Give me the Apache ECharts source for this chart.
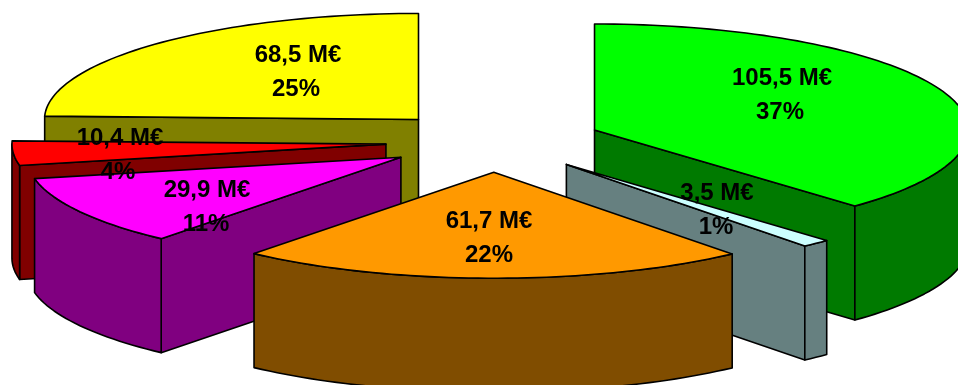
<!DOCTYPE html>
<html>
<head>
<meta charset="utf-8">
<title>Répartition en M€</title>
<style>html,body{margin:0;padding:0;background:#fff}#chart{width:958px;height:385px}</style>
<script src="https://cdn.jsdelivr.net/npm/echarts@6/dist/echarts.min.js"></script>
</head>
<body>
<div id="chart"></div>
<script>
// Slices, clockwise from twelve o'clock
const values = [105.5, 3.5, 61.7, 29.9, 10.4, 68.5];
const percents = [37, 1, 22, 11, 4, 25];
const topColors = ['#00ff00', '#ccffff', '#ff9900', '#ff00ff', '#ff0000', '#ffff00'];
const sideColors = ['#007a00', '#668080', '#804d00', '#800080', '#800000', '#808000'];

// Back-to-front order for the painter's algorithm
const paintOrder = [0, 5, 4, 3, 1, 2];

// Text centre of each slice's two label lines: [x, y of first line, x of second line]
const labelSpots = [[782, 78, 780], [717, 193, 716], [489, 221, 489], [207, 190, 206], [120, 138, 118], [298, 55, 296]];
const labelGap = 34;

// Projection of the pie
const CX = 494, CY = 141.5, RX = 374, RY = 106, DEPTH = 114, EXPLODE = 0.29;
const RAD = Math.PI / 180;

const total = values.reduce((a, b) => a + b, 0);
const starts = [];
values.reduce((sum, v, i) => { starts[i] = sum / total * 360; return sum + v; }, 0);

function rim(apex, deg, drop) {
  return [apex[0] + RX * Math.sin(deg * RAD), apex[1] - RY * Math.cos(deg * RAD) + (drop || 0)];
}
function arc(apex, from, to, drop) {
  const pts = [];
  const n = Math.max(2, Math.ceil((to - from) / 1.5));
  for (let k = 0; k <= n; k++) pts.push(rim(apex, from + (to - from) * k / n, drop));
  return pts;
}
function face(points, fill) {
  return {
    type: 'polygon',
    shape: { points },
    style: { fill, stroke: '#000', lineWidth: 1.6, lineJoin: 'round' }
  };
}
function down(p) { return [p[0], p[1] + DEPTH]; }

function renderSlice(params, api) {
  const i = api.value(0);
  const a0 = starts[i];
  const a1 = a0 + values[i] / total * 360;
  const mid = (a0 + a1) / 2;
  const apex = [
    CX + EXPLODE * RX * Math.sin(mid * RAD),
    CY - EXPLODE * RY * Math.cos(mid * RAD)
  ];
  const children = [];
  // Radial walls: a cut edge faces the viewer only when the slice lies behind it
  const wall = function (a) {
    const p = rim(apex, a);
    children.push(face([apex, p, down(p), down(apex)], sideColors[i]));
  };
  if (a0 > 180) wall(a0);
  if (a1 < 180) wall(a1);
  // Outer wall: only the part turned towards the viewer
  const f0 = Math.max(a0, 90), f1 = Math.min(a1, 270);
  if (f1 > f0) {
    const upper = arc(apex, f0, f1);
    const lower = arc(apex, f0, f1, DEPTH).reverse();
    children.push(face(upper.concat(lower), sideColors[i]));
  }
  // Top face
  children.push(face([apex].concat(arc(apex, a0, a1)), topColors[i]));
  return { type: 'group', children };
}

function renderLabel(params, api) {
  const i = api.value(0);
  const spot = labelSpots[i];
  const font = 'bold 24px "Liberation Sans", Arial, sans-serif';
  const line = function (text, x, y) {
    return { type: 'text', style: { text, x, y, font, fill: '#000', align: 'center', verticalAlign: 'middle' } };
  };
  return {
    type: 'group',
    children: [
      line(values[i].toFixed(1).replace('.', ',') + ' M€', spot[0], spot[1]),
      line(percents[i] + '%', spot[2], spot[1] + labelGap)
    ]
  };
}

const chart = echarts.init(document.getElementById('chart'), null, { renderer: 'canvas' });
chart.setOption({
  animation: false,
  backgroundColor: '#fff',
  tooltip: { show: false },
  series: [
    {
      type: 'custom',
      coordinateSystem: 'none',
      silent: true,
      z: 1,
      data: paintOrder.map(i => [i, values[i]]),
      renderItem: renderSlice
    },
    {
      type: 'custom',
      coordinateSystem: 'none',
      silent: true,
      z: 2,
      data: values.map((v, i) => [i, v]),
      renderItem: renderLabel
    }
  ]
});
</script>
</body>
</html>
